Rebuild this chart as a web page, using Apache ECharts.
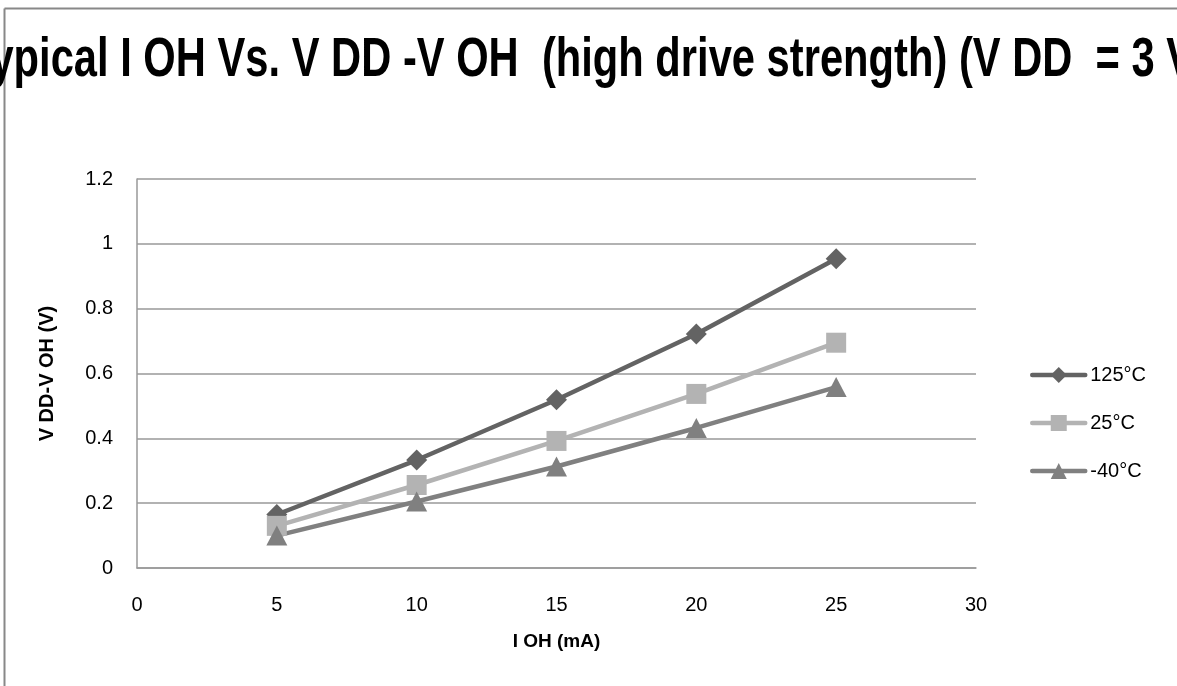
<!DOCTYPE html>
<html>
<head>
<meta charset="utf-8">
<script src="https://cdn.jsdelivr.net/npm/echarts@6/dist/echarts.min.js"></script>
<style>
html,body{margin:0;padding:0;background:#fff;}
#c{width:1177px;height:686px;}
</style>
</head>
<body>
<div id="c"></div>
<script>
const titleText = 'Typical I OH Vs. V DD -V OH  (high drive strength) (V DD  = 3 V)';
const xTitle = 'I OH (mA)';
const yTitle = 'V DD-V OH (V)';
const currents = [5, 10, 15, 20, 25];
const seriesNames = ['125°C', '25°C', '-40°C'];
const v125 = [0.165, 0.333, 0.519, 0.722, 0.954];
const v25 = [0.130, 0.256, 0.392, 0.537, 0.695];
const vm40 = [0.100, 0.205, 0.313, 0.432, 0.558];

const pairs = (ys) => currents.map((x, i) => [x, ys[i]]);

const FONT = '"Liberation Sans", Arial, sans-serif';
const titleFont = 'bold 55px ' + FONT;
const ctx = document.createElement('canvas').getContext('2d');
ctx.font = titleFont;
const measured = ctx.measureText(titleText).width;
const titleScale = 1240 / measured;

const chart = echarts.init(document.getElementById('c'), null, {renderer: 'canvas'});

const mk = (name, data, color, symbol, size) => ({
  name: name,
  type: 'line',
  data: data,
  symbol: symbol,
  symbolSize: size,
  showSymbol: true,
  lineStyle: {color: color, width: 4.5},
  itemStyle: {color: color},
  emphasis: {disabled: true},
  animation: false
});

chart.setOption({
  animation: false,
  backgroundColor: '#fff',
  textStyle: {fontFamily: FONT},
  grid: {left: 137, right: 201, top: 179, bottom: 118, containLabel: false},
  graphic: [
    {type: 'line', shape: {x1: 4.5, y1: 8.5, x2: 1177, y2: 8.5}, style: {stroke: '#888', lineWidth: 2}},
    {type: 'line', shape: {x1: 4.5, y1: 8.5, x2: 4.5, y2: 686}, style: {stroke: '#888', lineWidth: 2}},
    {type: 'text', x: 588, y: 61, scaleX: titleScale, scaleY: 1,
      style: {text: titleText, font: titleFont, fill: '#000', align: 'center', verticalAlign: 'middle'}}
  ],
  legend: {
    orient: 'vertical',
    left: 1025,
    top: 360,
    itemWidth: 53,
    itemHeight: 20,
    itemGap: 28,
    lineStyle: {width: 4.5, cap: 'round'},
    textStyle: {fontSize: 20, color: '#000', fontFamily: FONT, lineHeight: 20},
    data: seriesNames
  },
  xAxis: {
    type: 'value',
    min: 0, max: 30, interval: 5,
    name: xTitle,
    nameLocation: 'middle',
    nameGap: 64,
    nameTextStyle: {fontSize: 19, fontWeight: 'bold', color: '#000', fontFamily: FONT},
    axisLine: {show: true, lineStyle: {color: '#999', width: 1.5}},
    axisTick: {show: false},
    axisLabel: {fontSize: 20, color: '#000', margin: 27, fontFamily: FONT},
    splitLine: {show: false}
  },
  yAxis: {
    type: 'value',
    min: 0, max: 1.2, interval: 0.2,
    name: yTitle,
    nameLocation: 'middle',
    nameGap: 80,
    nameRotate: 90,
    nameTextStyle: {fontSize: 20, fontWeight: 'bold', color: '#000', fontFamily: FONT},
    axisLine: {show: true, lineStyle: {color: '#999', width: 1.5}},
    axisTick: {show: false},
    axisLabel: {fontSize: 20, color: '#000', margin: 24, fontFamily: FONT},
    splitLine: {show: true, lineStyle: {color: '#999', width: 1.5}}
  },
  series: [
    mk(seriesNames[0], pairs(v125), '#636363', 'diamond', [21, 21]),
    mk(seriesNames[1], pairs(v25), '#b3b3b3', 'rect', [20, 20]),
    mk(seriesNames[2], pairs(vm40), '#808080', 'triangle', [21, 20])
  ]
});
</script>
</body>
</html>
